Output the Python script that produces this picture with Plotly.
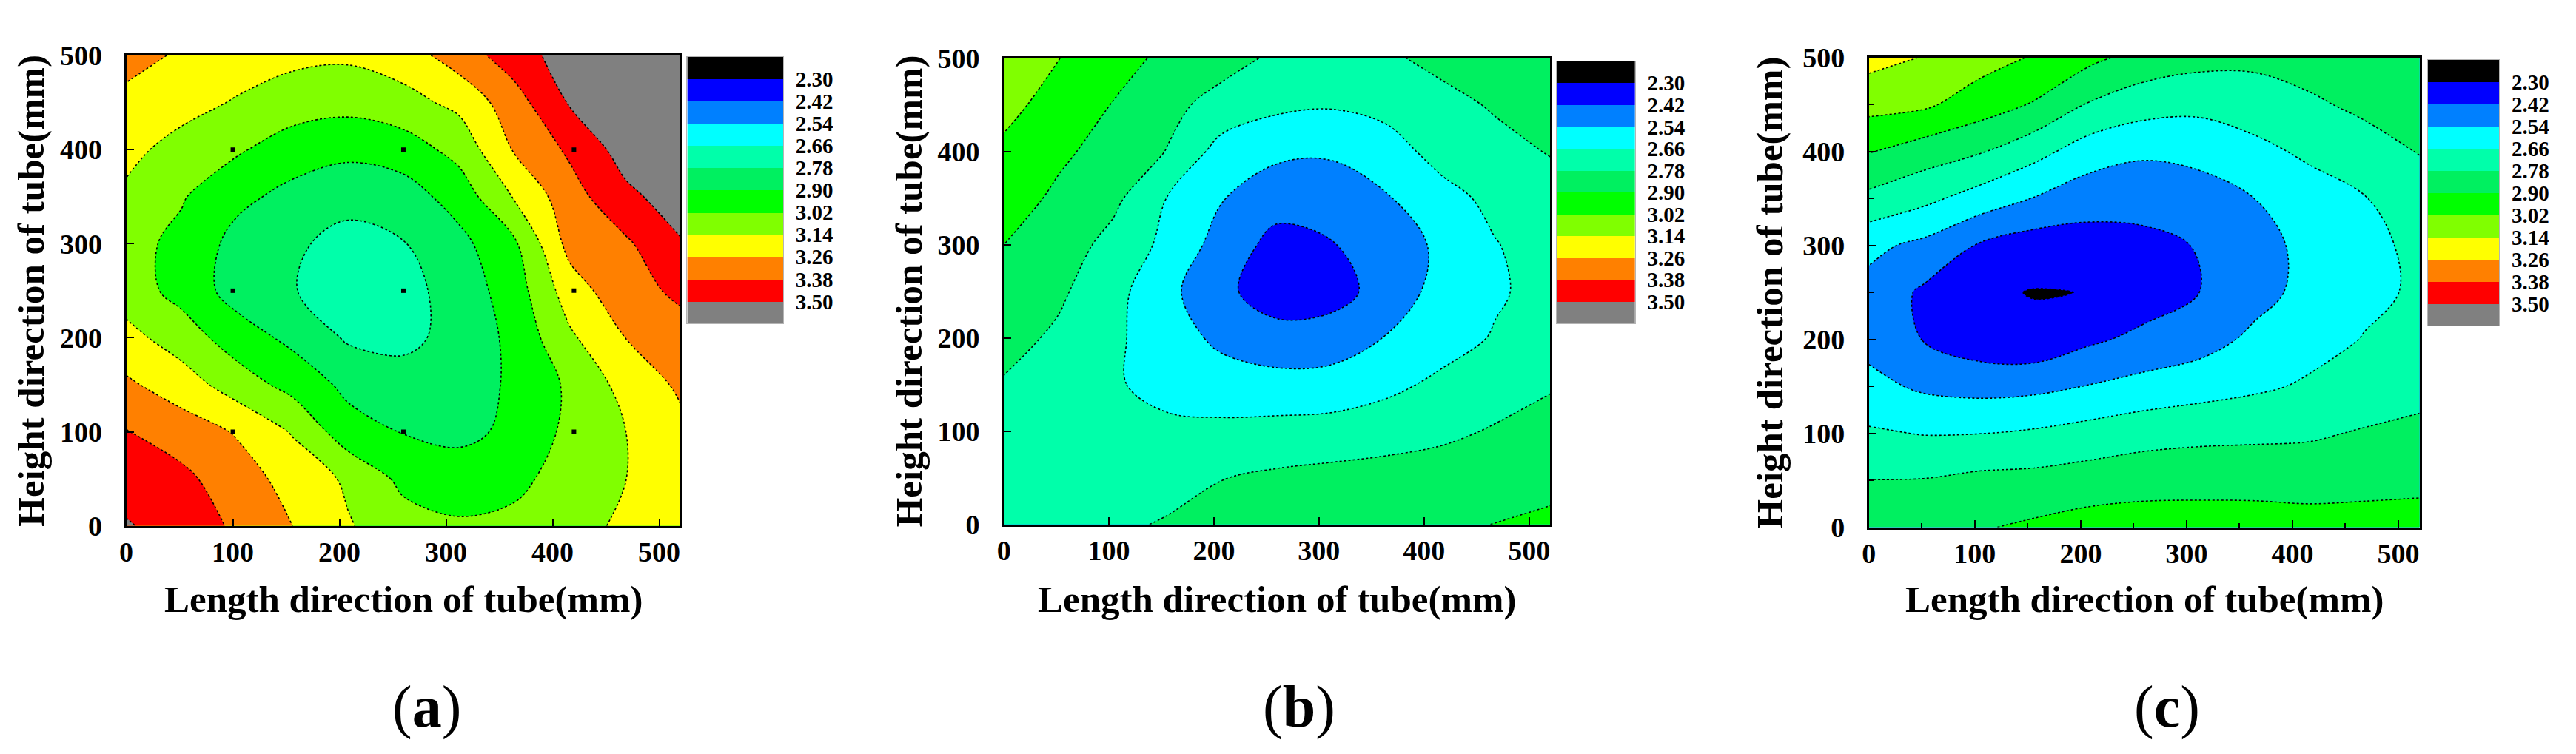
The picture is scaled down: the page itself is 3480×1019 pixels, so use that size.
import plotly.graph_objects as go

# ---------------- data ----------------
x_mm = [0, 52, 104, 156, 208, 260, 312, 364, 416, 468, 520]
y_mm = [0, 50, 100, 150, 200, 250, 300, 350, 400, 450, 500]

# panel (a) values, rows = y_mm, cols = x_mm
z_a = [
    [3.51, 3.45, 3.36, 3.26, 3.15, 3.07, 3.035, 3.05, 3.10, 3.16, 3.20],
    [3.45, 3.41, 3.31, 3.22, 3.12, 2.99, 2.96, 2.99, 3.07, 3.138, 3.21],
    [3.385, 3.32, 3.25, 3.13, 2.95, 2.895, 2.87, 2.925, 3.05, 3.138, 3.23],
    [3.28, 3.20, 3.08, 2.98, 2.87, 2.83, 2.84, 2.92, 3.04, 3.18, 3.28],
    [3.18, 3.08, 2.96, 2.87, 2.765, 2.75, 2.82, 2.93, 3.12, 3.26, 3.34],
    [3.08, 2.98, 2.85, 2.785, 2.73, 2.74, 2.83, 2.96, 3.20, 3.34, 3.40],
    [3.06, 2.99, 2.86, 2.80, 2.74, 2.775, 2.865, 3.00, 3.30, 3.36, 3.49],
    [3.12, 3.03, 2.93, 2.865, 2.82, 2.845, 2.95, 3.15, 3.33, 3.47, 3.56],
    [3.17, 3.10, 3.035, 2.96, 2.93, 2.96, 3.06, 3.27, 3.40, 3.55, 3.64],
    [3.23, 3.18, 3.13, 3.08, 3.06, 3.10, 3.17, 3.33, 3.51, 3.62, 3.70],
    [3.30, 3.245, 3.20, 3.17, 3.16, 3.20, 3.32, 3.44, 3.56, 3.64, 3.72],
]

# panel (b)
z_b = [
    [2.76, 2.765, 2.77, 2.785, 2.81, 2.83, 2.845, 2.86, 2.88, 2.902, 2.92],
    [2.75, 2.745, 2.75, 2.76, 2.778, 2.80, 2.815, 2.825, 2.835, 2.85, 2.87],
    [2.74, 2.72, 2.69, 2.68, 2.685, 2.70, 2.71, 2.73, 2.755, 2.79, 2.82],
    [2.77, 2.73, 2.67, 2.63, 2.60, 2.58, 2.585, 2.63, 2.685, 2.73, 2.77],
    [2.82, 2.76, 2.68, 2.60, 2.51, 2.47, 2.48, 2.545, 2.61, 2.67, 2.72],
    [2.86, 2.80, 2.70, 2.57, 2.45, 2.35, 2.37, 2.47, 2.58, 2.645, 2.70],
    [2.90, 2.845, 2.74, 2.63, 2.49, 2.38, 2.415, 2.48, 2.56, 2.655, 2.71],
    [2.95, 2.88, 2.81, 2.655, 2.545, 2.47, 2.455, 2.53, 2.62, 2.69, 2.74],
    [3.00, 2.92, 2.86, 2.775, 2.61, 2.565, 2.56, 2.61, 2.70, 2.75, 2.785],
    [3.05, 2.98, 2.895, 2.81, 2.74, 2.685, 2.67, 2.695, 2.75, 2.79, 2.82],
    [3.08, 3.022, 2.95, 2.87, 2.82, 2.76, 2.72, 2.765, 2.805, 2.83, 2.85],
]

# panel (c)
z_c = [
    [2.86, 2.87, 2.89, 2.92, 2.95, 2.96, 2.96, 2.96, 2.95, 2.95, 2.95],
    [2.782, 2.785, 2.81, 2.817, 2.836, 2.852, 2.856, 2.854, 2.85, 2.86, 2.87],
    [2.675, 2.655, 2.658, 2.676, 2.705, 2.735, 2.75, 2.757, 2.765, 2.79, 2.81],
    [2.575, 2.52, 2.50, 2.51, 2.545, 2.58, 2.61, 2.64, 2.675, 2.71, 2.74],
    [2.50, 2.415, 2.35, 2.33, 2.40, 2.45, 2.49, 2.565, 2.62, 2.665, 2.70],
    [2.50, 2.40, 2.32, 2.295, 2.302, 2.36, 2.42, 2.50, 2.575, 2.635, 2.675],
    [2.57, 2.51, 2.41, 2.36, 2.37, 2.395, 2.425, 2.50, 2.57, 2.63, 2.685],
    [2.75, 2.69, 2.61, 2.535, 2.47, 2.455, 2.48, 2.54, 2.61, 2.655, 2.72],
    [2.905, 2.84, 2.79, 2.70, 2.60, 2.56, 2.58, 2.63, 2.68, 2.74, 2.785],
    [3.06, 3.04, 2.96, 2.89, 2.77, 2.71, 2.69, 2.715, 2.765, 2.80, 2.83],
    [3.18, 3.135, 3.07, 3.01, 2.93, 2.855, 2.82, 2.81, 2.82, 2.835, 2.85],
]

level_labels = ["2.30", "2.42", "2.54", "2.66", "2.78", "2.90",
                "3.02", "3.14", "3.26", "3.38", "3.50"]
band_colors = ["#000000", "#0000FF", "#0080FF", "#00FFFF", "#00FFAA", "#00F060",
               "#00FF00", "#80FF00", "#FFFF00", "#FF8000", "#FF0000", "#808080"]

meas_x = [100, 260, 420, 100, 260, 420, 100, 260, 420]
meas_y = [100, 100, 100, 250, 250, 250, 400, 400, 400]

tick_vals = [0, 100, 200, 300, 400, 500]
minor_vals = [50, 150, 250, 350, 450]
panel_letters = ["a", "b", "c"]
x_title = "Length direction of tube(mm)"
y_title = "Height direction of tube(mm)"

# ---------------- layout geometry (pixels) ----------------
W, H = 3480, 1019
plots = [  # left, right, top, bottom
    (153, 904, 48, 711),
    (1342, 2082, 52, 709),
    (2514, 3260, 51, 713),
]
cbars = [
    (913, 1043, 50, 426),
    (2091, 2197, 56, 426),
    (3271, 3368, 54, 429),
]
ytitle_x = [24, 1213, 2380]
letter_x = [560, 1742, 2918]
xtitle_y = 815
letter_y = 966

FONT = "Liberation Serif"


def fx(p):
    return p / W


def fy(p):
    return 1 - p / H


# contour colour scale: band k is coloured at s = k/11
n = len(band_colors)
contour_cs = []
for k, c in enumerate(band_colors):
    lo = max(0.0, (k - 0.5) / (n - 1))
    hi = min(1.0, (k + 0.5) / (n - 1))
    contour_cs.append([lo, c])
    contour_cs.append([hi, c])

# colour-bar heatmap scale
bar_cs = []
for k, c in enumerate(band_colors):
    bar_cs.append([k / n, c])
    bar_cs.append([(k + 1) / n, c])

lv_start = float(level_labels[0])
lv_end = float(level_labels[-1])
lv_size = round((lv_end - lv_start) / (len(level_labels) - 1), 4)

fig = go.Figure()
layout = dict(
    width=W, height=H, margin=dict(l=0, r=0, t=0, b=0),
    paper_bgcolor="white", plot_bgcolor="white", showlegend=False,
)
annotations = []

for i, z in enumerate([z_a, z_b, z_c]):
    xa = f"x{2*i+1}" if i > 0 else "x"
    ya = f"y{2*i+1}" if i > 0 else "y"
    xb = f"x{2*i+2}"
    yb = f"y{2*i+2}"
    fig.add_trace(go.Contour(
        x=x_mm, y=y_mm, z=z, xaxis=xa, yaxis=ya,
        autocontour=False,
        contours=dict(start=lv_start, end=lv_end, size=lv_size,
                      coloring="fill", showlines=True),
        line=dict(color="black", width=1.6, dash="dot"),
        colorscale=contour_cs, showscale=False, hoverinfo="skip",
    ))
    if i == 0:
        fig.add_trace(go.Scatter(
            x=meas_x, y=meas_y, mode="markers", xaxis=xa, yaxis=ya,
            marker=dict(symbol="square", size=6, color="black"),
            hoverinfo="skip",
        ))
    # colour bar
    fig.add_trace(go.Heatmap(
        x=[0], y=[k + 0.5 for k in range(n)], z=[[k] for k in range(n)],
        xaxis=xb, yaxis=yb, zmin=-0.5, zmax=n - 0.5,
        colorscale=bar_cs, showscale=False, hoverinfo="skip",
    ))

    L, R, T, B = plots[i]
    xdict = dict(
        domain=[fx(L), fx(R)], range=[0, 520], anchor=ya,
        tickmode="array", tickvals=tick_vals, ticks="inside", ticklen=10, tickwidth=2,
        tickcolor="black", showline=True, linecolor="black", linewidth=3, mirror=True,
        showgrid=False, zeroline=False, ticklabelstandoff=0,
        tickfont=dict(family=FONT, size=38, color="black", weight="bold"),
    )
    ydict = dict(
        domain=[fy(B), fy(T)], range=[0, 500], anchor=xa,
        tickmode="array", tickvals=tick_vals, ticks="inside", ticklen=10, tickwidth=2,
        tickcolor="black", showline=True, linecolor="black", linewidth=3, mirror=True,
        showgrid=False, zeroline=False, ticklabelstandoff=22,
        tickfont=dict(family=FONT, size=38, color="black", weight="bold"),
    )
    if i == 2:
        xdict["minor"] = dict(ticks="inside", ticklen=6, tickwidth=2, tickcolor="black",
                              tickvals=minor_vals)
        ydict["minor"] = dict(ticks="inside", ticklen=6, tickwidth=2, tickcolor="black",
                              tickvals=minor_vals)
    xkey = "xaxis" if i == 0 else f"xaxis{2*i+1}"
    ykey = "yaxis" if i == 0 else f"yaxis{2*i+1}"
    layout[xkey] = xdict
    layout[ykey] = ydict

    cL, cR, cT, cB = cbars[i]
    layout[f"xaxis{2*i+2}"] = dict(
        domain=[fx(cL), fx(cR)], range=[-0.5, 0.5], anchor=yb,
        showticklabels=False, ticks="", showgrid=False, zeroline=False,
        showline=True, linecolor="#B4B4B4", linewidth=1, mirror=True,
    )
    layout[f"yaxis{2*i+2}"] = dict(
        domain=[fy(cB), fy(cT)], range=[n, 0], anchor=xb, side="right",
        tickmode="array", tickvals=list(range(1, n)), ticktext=level_labels,
        ticks="", showgrid=False, zeroline=False, ticklabelstandoff=10,
        showline=True, linecolor="#B4B4B4", linewidth=1, mirror=True,
        tickfont=dict(family=FONT, size=29, color="black", weight="bold"),
    )

    cx = (L + R) / 2
    cy = (T + B) / 2
    annotations.append(dict(
        x=fx(cx), y=fy(xtitle_y), xref="paper", yref="paper",
        text=f"<b>{x_title}</b>", showarrow=False, xanchor="center", yanchor="middle",
        font=dict(family=FONT, size=51, color="black"),
    ))
    annotations.append(dict(
        x=fx(ytitle_x[i]), y=fy(cy), xref="paper", yref="paper",
        text=f"<b>{y_title}</b>", showarrow=False, xanchor="center", yanchor="middle",
        textangle=-90, font=dict(family=FONT, size=51, color="black"),
    ))
    annotations.append(dict(
        x=fx(letter_x[i]), y=fy(letter_y), xref="paper", yref="paper",
        text=f"(<b>{panel_letters[i]}</b>)", showarrow=False, xanchor="center", yanchor="middle",
        font=dict(family=FONT, size=80, color="black"),
    ))

layout["annotations"] = annotations
fig.update_layout(**layout)
fig.write_html("out.html")
